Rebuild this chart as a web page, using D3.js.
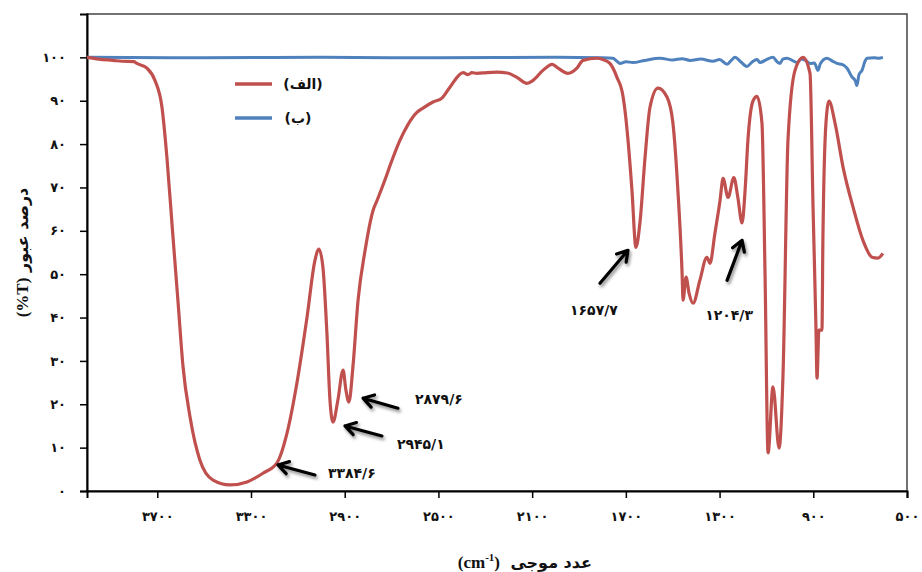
<!DOCTYPE html>
<html>
<head>
<meta charset="utf-8">
<script src="https://cdn.jsdelivr.net/npm/d3@7"></script>
<style>
  body { margin: 0; background: #fff; }
  text { font-family: "DejaVu Sans", sans-serif; }
</style>
</head>
<body>
<div id="chart"></div>
<script>
// sample (الف) - wavenumber / transmittance
const redWn = [4000, 3950, 3889, 3850, 3800, 3787, 3744, 3710, 3680, 3659, 3635, 3612, 3590, 3560, 3518,
  3462, 3390, 3317, 3249, 3189, 3146, 3104, 3061, 3027, 3010, 2993, 2976, 2963, 2950, 2929, 2907,
  2895, 2882, 2865, 2843, 2813, 2779, 2762, 2730, 2700, 2664, 2630, 2592, 2566, 2523, 2485, 2451,
  2395, 2374, 2357, 2336, 2293, 2250, 2207, 2165, 2122, 2096, 2054, 2015, 1994, 1947, 1909, 1883,
  1823, 1798, 1768, 1738, 1712, 1700, 1691, 1674, 1657, 1640, 1618, 1597, 1563, 1524, 1499, 1478,
  1460, 1456, 1443, 1430, 1413, 1384, 1354, 1341, 1320, 1298, 1285, 1264, 1239, 1222, 1204, 1191,
  1179, 1157, 1140, 1119, 1106, 1093, 1072, 1046, 1029, 1008, 978, 944, 914, 901, 889, 884, 876,
  863, 859, 846, 833, 807, 773, 730, 688, 649, 624, 603];
const redT = [100, 99.6, 99.3, 99.1, 99.0, 98.6, 97.5, 94.7, 88.5, 77, 60, 44, 28.6, 17, 7.1,
  2.5, 1.4, 2.1, 4.1, 6.5, 13.4, 24.9, 40, 53.2, 55.8, 51.6, 36.4, 21, 15.9, 21, 27.9,
  23.3, 20.5, 28.6, 44, 55.5, 64.7, 67, 71.5, 76, 80.9, 84.5, 87.3, 88.3, 89.7, 90.6, 93.1,
  96.5, 96.0, 96.5, 96.3, 96.5, 96.6, 96.4, 95.4, 94, 94.7, 97, 98.4, 97.7, 96.3, 97.5, 99.3,
  99.8, 99.5, 98.6, 95.4, 91, 86, 81, 69.4, 56.2, 61.8, 77, 88.5, 92.9, 90.8, 84.8, 69.4,
  50.2, 44, 49.3, 45.6, 43.3, 48.6, 53.9, 52.5, 59.4, 67, 72.1, 67.7, 72.3, 67.7, 61.8, 69.4,
  80.9, 90, 91, 84.8, 50.2, 8.8, 24, 9.9, 27.2, 80.9, 97, 100, 96.3, 65.4, 38.7, 26, 37.1,
  37.1, 57.8, 84.8, 89.9, 84.8, 74.7, 65.4, 57.8, 53.9, 53.7, 54.8];

// sample (ب)
const blueWn = [4000, 3500, 3000, 2500, 2000, 1800, 1755, 1740, 1725, 1700, 1670, 1620, 1554, 1500,
  1460, 1426, 1380, 1328, 1300, 1268, 1250, 1234, 1210, 1183, 1160, 1140, 1127, 1100, 1072, 1055,
  1042, 1030, 1012, 990, 970, 950, 930, 914, 895, 880, 870, 842, 820, 799, 775, 756, 735, 720,
  714, 705, 692, 680, 671, 640, 620, 603];
const blueT = [100, 99.9, 100, 99.9, 100, 99.9, 99.8, 99.2, 98.6, 99.0, 98.8, 99.3, 99.8, 99.4,
  99.7, 99.3, 99.6, 99.1, 99.5, 98.4, 99.3, 100, 99.0, 97.9, 99.0, 99.5, 98.8, 99.5, 100, 99.0,
  98.6, 99.6, 99.8, 99.3, 98.8, 99.6, 99.2, 98.6, 98.7, 97.0, 98.5, 99.8, 99.2, 98.6, 98.3, 97.5, 95.5, 94.5,
  93.5, 96, 97, 99, 99.8, 99.9, 99.8, 100];

const xTicks = [3700, 3300, 2900, 2500, 2100, 1700, 1300, 900, 500];
const yTicks = [0, 10, 20, 30, 40, 50, 60, 70, 80, 90, 100];

// peak labels: arrow tip on the curve (wn, t)
const peakLabels = ["۳۳۸۴/۶", "۲۹۴۵/۱", "۲۸۷۹/۶", "۱۶۵۷/۷", "۱۲۰۴/۳"];
const peakWn = [3185, 2899, 2822, 1691, 1204];
const peakT = [6.0, 15.0, 21.4, 55.5, 57.8];

const fa = (v) => String(v).replace(/\d/g, (d) => "۰۱۲۳۴۵۶۷۸۹"[d]);
const LRM = "\u200E";

const width = 922, height = 572;
const margin = { top: 14, right: 15, bottom: 81, left: 87 };

const svg = d3.select("#chart").append("svg")
  .attr("width", width)
  .attr("height", height);

const defs = svg.append("defs");
defs.append("filter").attr("id", "shadow")
  .attr("x", "-50%").attr("y", "-50%").attr("width", "200%").attr("height", "200%")
  .append("feDropShadow")
  .attr("dx", 1.5).attr("dy", 2.5).attr("stdDeviation", 1.8)
  .attr("flood-color", "#000").attr("flood-opacity", 0.45);

const x = d3.scaleLinear().domain([4000, 500]).range([margin.left, width - margin.right]);
const y = d3.scaleLinear().domain([0, 110]).range([height - margin.bottom, margin.top]);

// frame
svg.append("rect")
  .attr("x", x(4000)).attr("y", y(110))
  .attr("width", x(500) - x(4000)).attr("height", y(0) - y(110))
  .attr("fill", "none").attr("stroke", "#444").attr("stroke-width", 1.5);

// axes
const xAxis = svg.append("g")
  .attr("transform", `translate(0,${y(0)})`)
  .call(d3.axisBottom(x).tickValues(xTicks).tickSize(7).tickFormat(fa));
const yAxis = svg.append("g")
  .attr("transform", `translate(${x(4000)},0)`)
  .call(d3.axisLeft(y).tickValues(yTicks).tickSize(7).tickFormat(fa));

[xAxis, yAxis].forEach((g) => {
  g.select(".domain").attr("stroke", "#000").attr("stroke-width", 2);
  g.selectAll(".tick line").attr("stroke", "#000").attr("stroke-width", 1.5);
  g.selectAll(".tick text")
    .attr("fill", "#111")
    .style("font-size", "13px")
    .style("font-weight", "bold")
    .style("font-family", "'DejaVu Sans', sans-serif");
});
xAxis.selectAll(".tick text").attr("dy", "1.55em").style("letter-spacing", "3.5px");
yAxis.selectAll(".tick text").attr("x", -21);

// series
const line = d3.line()
  .x((d) => x(d[0]))
  .y((d) => y(d[1]))
  .curve(d3.curveMonotoneX);

svg.append("path")
  .datum(d3.zip(blueWn, blueT))
  .attr("fill", "none")
  .attr("stroke", "#4F81BD")
  .attr("stroke-width", 3)
  .attr("d", line);

svg.append("path")
  .datum(d3.zip(redWn, redT))
  .attr("fill", "none")
  .attr("stroke", "#C0504D")
  .attr("stroke-width", 3.2)
  .attr("stroke-linejoin", "round")
  .attr("d", line);

// legend
const legend = svg.append("g").attr("transform", "translate(235,84)");
const legendItems = [["(الف)", "#C0504D"], ["(ب)", "#4F81BD"]];
legendItems.forEach((d, i) => {
  const g = legend.append("g").attr("transform", `translate(0,${i * 34})`);
  g.append("line").attr("x1", 0).attr("x2", 37)
    .attr("stroke", d[1]).attr("stroke-width", 3.5);
  g.append("text")
    .attr("x", i === 0 ? 68 : 63).attr("y", 5)
    .attr("text-anchor", "middle")
    .style("direction", "rtl")
    .style("font-size", "14px")
    .style("font-weight", "bold")
    .attr("fill", "#111")
    .text(d[0]);
});

// arrows + peak labels (tail offset / label position relative to tip, px)
const arrowOff = [[37, 10], [37, 10], [35, 10], [-28, 33], [-15, 40]];
const labelOff = [[50, 8], [52, 18], [52, 1], [-34, 60], [-13, 75]];

peakLabels.forEach((lab, i) => {
  const tx = x(peakWn[i]), ty = y(peakT[i]);
  const sx = tx + arrowOff[i][0], sy = ty + arrowOff[i][1];
  const ang = Math.atan2(sy - ty, sx - tx);
  const hl = 12, ha = 0.55;
  const p = `M${sx},${sy}L${tx},${ty}` +
    `M${tx + hl * Math.cos(ang - ha)},${ty + hl * Math.sin(ang - ha)}L${tx},${ty}` +
    `L${tx + hl * Math.cos(ang + ha)},${ty + hl * Math.sin(ang + ha)}`;
  svg.append("path")
    .attr("d", p)
    .attr("fill", "none")
    .attr("stroke", "#000")
    .attr("stroke-width", 3.2)
    .attr("stroke-linecap", "round")
    .attr("stroke-linejoin", "round")
    .attr("filter", "url(#shadow)");
  svg.append("text")
    .attr("x", tx + labelOff[i][0])
    .attr("y", ty + labelOff[i][1])
    .attr("text-anchor", labelOff[i][0] < 0 ? "middle" : "start")
    .attr("dy", "0.35em")
    .style("font-size", "14px")
    .style("font-weight", "bold")
    .style("letter-spacing", "0.5px")
    .attr("fill", "#111")
    .text(lab);
});

// axis titles
const yt = svg.append("text")
  .attr("transform", `translate(22,${y(55)}) rotate(-90)`)
  .attr("text-anchor", "middle")
  .attr("dy", "0.35em")
  .style("direction", "rtl")
  .style("font-size", "16px")
  .style("font-weight", "bold")
  .attr("fill", "#111");
yt.append("tspan").text("درصد عبور ");
yt.append("tspan")
  .style("font-family", "'Liberation Serif', serif")
  .style("font-size", "17px")
  .text(LRM + "(%T)" + LRM);

// x title: Persian part and unit drawn as separate texts side by side
const xTitle = svg.append("g").attr("transform", "translate(0,562)");
xTitle.append("text")
  .attr("x", 592).attr("dy", "0.35em")
  .attr("text-anchor", "end")
  .style("font-size", "16px")
  .style("font-weight", "bold")
  .style("letter-spacing", "0.5px")
  .attr("fill", "#111")
  .text("عدد موجی");
const unit = xTitle.append("text")
  .attr("x", 500).attr("dy", "0.35em")
  .attr("text-anchor", "end")
  .style("font-family", "'Liberation Serif', serif")
  .style("font-size", "17px")
  .style("font-weight", "bold")
  .attr("fill", "#111");
unit.append("tspan").text("(cm");
unit.append("tspan").style("font-size", "11px").attr("dy", "-0.65em").text("-1");
unit.append("tspan").attr("dy", "0.42em").text(")");
</script>
</body>
</html>
